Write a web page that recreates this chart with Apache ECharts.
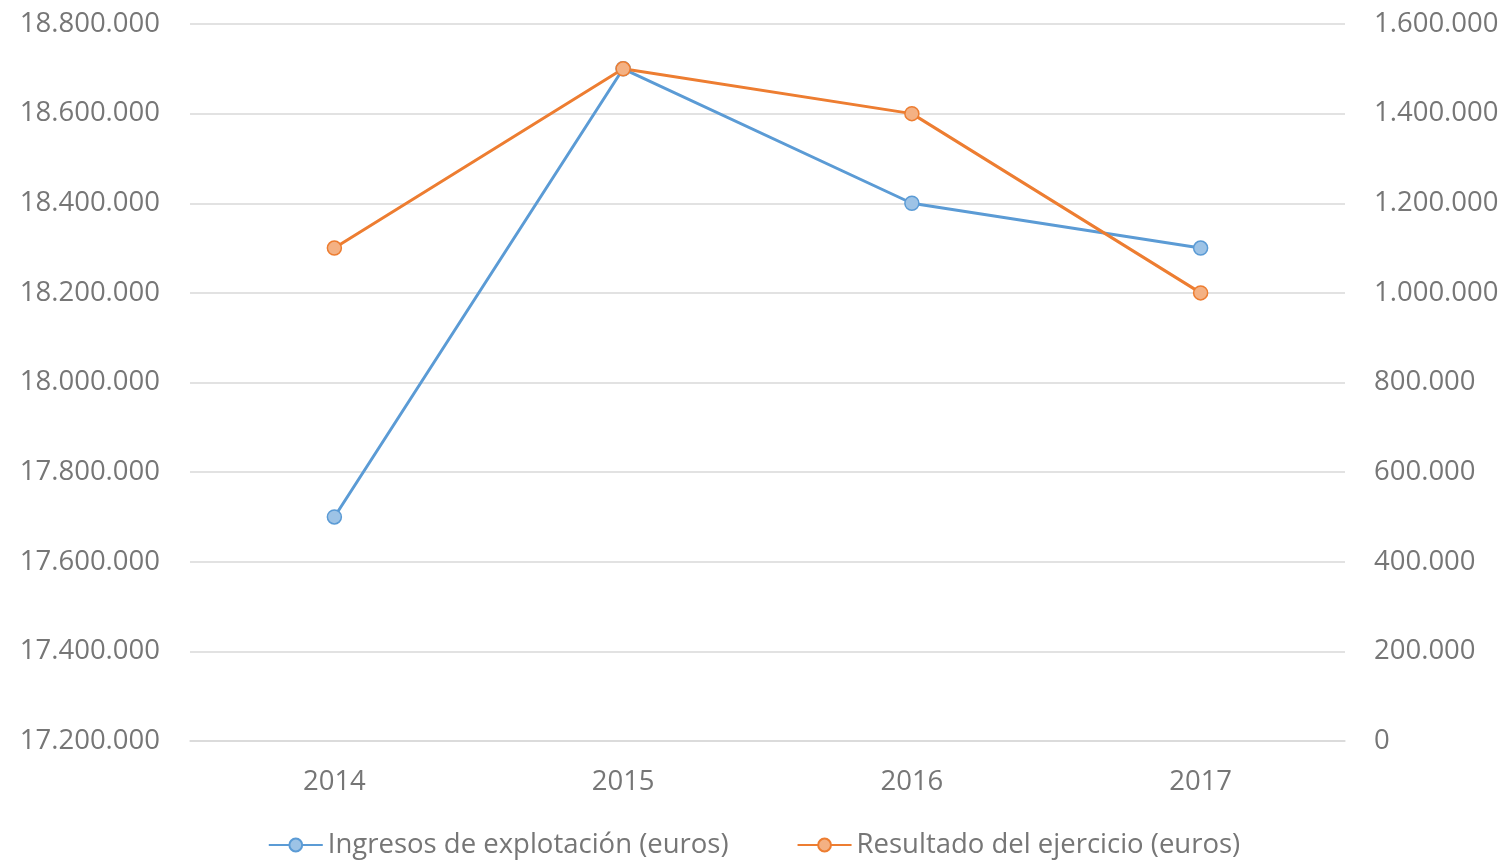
<!DOCTYPE html>
<html>
<head>
<meta charset="utf-8">
<script src="https://cdn.jsdelivr.net/npm/echarts@6/dist/echarts.min.js"></script>
<style>
  html, body { margin: 0; padding: 0; background: #fff; }
  #chart { width: 1508px; height: 860px; }
</style>
</head>
<body>
<div id="chart"></div>
<script>
"use strict";
var years = ["2014", "2015", "2016", "2017"];
var ingresos = [17700000, 18700000, 18400000, 18300000];   // eje izquierdo
var resultado = [1100000, 1500000, 1400000, 1000000];      // eje derecho
var nombres = ["Ingresos de explotación (euros)", "Resultado del ejercicio (euros)"];

var textColor = "#767676";
var fontFamily = "'Open Sans', 'Liberation Sans', sans-serif";

// separador de miles con punto
function fmt(v) {
  return String(v).replace(/\B(?=(\d{3})+(?!\d))/g, ".");
}

var chart = echarts.init(document.getElementById("chart"));
chart.setOption({
  animation: false,
  textStyle: { fontFamily: fontFamily },
  grid: { left: 190, right: 163, top: 24, bottom: 119 },
  legend: {
    bottom: -4,
    itemWidth: 54,
    itemHeight: 16,
    itemGap: 68,
    textStyle: { color: textColor, fontSize: 27.5, fontFamily: fontFamily },
    data: nombres
  },
  xAxis: {
    type: "category",
    data: years,
    boundaryGap: true,
    axisLine: { lineStyle: { color: "#d9d9d9", width: 1.5 } },
    axisTick: { show: false },
    axisLabel: { color: textColor, fontSize: 27.5, margin: 27 }
  },
  yAxis: [{
    type: "value",
    min: 17200000, max: 18800000, interval: 200000,
    axisLine: { show: false }, axisTick: { show: false },
    splitLine: { lineStyle: { color: "#d9d9d9", width: 1.5 } },
    axisLabel: { color: textColor, fontSize: 27.5, margin: 30, formatter: fmt }
  }, {
    type: "value",
    min: 0, max: 1600000, interval: 200000,
    axisLine: { show: false }, axisTick: { show: false },
    splitLine: { show: false },
    axisLabel: { color: textColor, fontSize: 27.5, margin: 29, formatter: fmt }
  }],
  series: [{
    name: nombres[0],
    type: "line",
    yAxisIndex: 0,
    data: ingresos,
    symbol: "circle",
    symbolSize: 14,
    lineStyle: { color: "#5b9bd5", width: 3 },
    itemStyle: { color: "#9dc3e6", borderColor: "#5b9bd5", borderWidth: 1.5 }
  }, {
    name: nombres[1],
    type: "line",
    yAxisIndex: 1,
    data: resultado,
    symbol: "circle",
    symbolSize: 14,
    lineStyle: { color: "#ed7d31", width: 3 },
    itemStyle: { color: "#f4b183", borderColor: "#ed7d31", borderWidth: 1.5 }
  }]
});
</script>
</body>
</html>
